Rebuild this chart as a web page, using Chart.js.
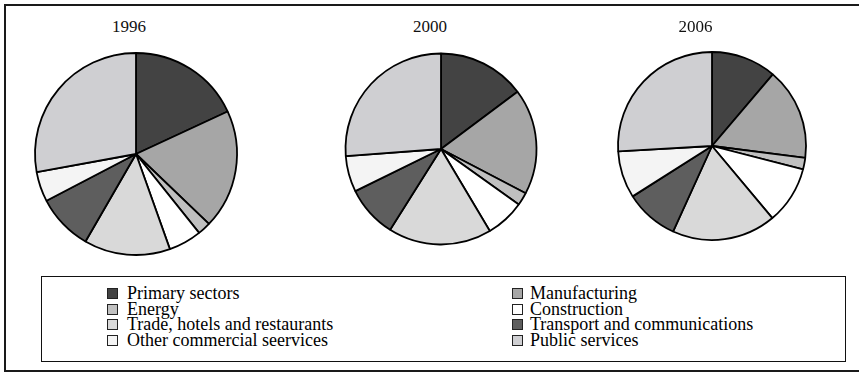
<!DOCTYPE html>
<html>
<head>
<meta charset="utf-8">
<script src="https://cdn.jsdelivr.net/npm/chart.js@4/dist/chart.umd.min.js"></script>
<style>
  body { margin: 0; background: #fff; }
  #wrap { position: relative; width: 859px; height: 375px; overflow: hidden; font-family: "Liberation Serif", "DejaVu Serif", serif; }
  #frame { position: absolute; left: 4px; top: 4px; width: 860px; height: 368px; border: 2px solid #1a1a1a; box-sizing: border-box; }
  .pie { position: absolute; }
  .year { position: absolute; top: 17px; width: 80px; text-align: center; font-size: 17px; color: #111; }
  #legend { position: absolute; left: 41px; top: 276px; width: 805px; height: 86px; border: 1.5px solid #111; box-sizing: border-box; }
  .item { position: absolute; font-size: 18px; line-height: 16px; color: #000; white-space: nowrap; }
  .box { position: absolute; width: 11px; height: 11px; border: 1px solid #222; box-sizing: border-box; }
</style>
</head>
<body>
<div id="wrap">
  <div id="frame"></div>
  <div id="legend"></div>
</div>
<script>
const sectors = ["Primary sectors", "Manufacturing", "Energy", "Construction",
  "Trade, hotels and restaurants", "Transport and communications",
  "Other commercial seervices", "Public services"];
const colors = ["#434343", "#a6a6a6", "#c0c0c0", "#ffffff", "#d9d9d9", "#5e5e5e", "#f4f4f4", "#cfcfd2"];
const years = ["1996", "2000", "2006"];

// share of each sector, percent
const share1996 = [18.1, 19.1, 2.1, 5.3, 13.8, 9.0, 4.8, 27.9];
const share2000 = [14.8, 17.9, 2.2, 6.6, 17.5, 8.8, 6.1, 26.2];
const share2006 = [11.2, 15.8, 2.0, 9.9, 17.9, 9.2, 8.1, 25.9];

const wrap = document.getElementById("wrap");

// centre x, centre y, radius, title centre x
const layout = [
  [135.5, 153.5, 101, 129],
  [440.5, 149, 95.5, 430],
  [711.5, 146, 94, 695.5]
];

[share1996, share2000, share2006].forEach((values, i) => {
  const [cx, cy, r, tx] = layout[i];
  const size = 220;
  const canvas = document.createElement("canvas");
  canvas.className = "pie";
  canvas.style.left = (cx - size / 2) + "px";
  canvas.style.top = (cy - size / 2) + "px";
  canvas.style.width = size + "px";
  canvas.style.height = size + "px";
  canvas.width = size;
  canvas.height = size;
  wrap.appendChild(canvas);

  new Chart(canvas.getContext("2d"), {
    type: "pie",
    data: {
      labels: sectors,
      datasets: [{
        data: values,
        backgroundColor: colors,
        borderColor: "#000",
        borderWidth: 1.8,
        radius: r
      }]
    },
    options: {
      responsive: false,
      animation: false,
      layout: { padding: 0 },
      plugins: { legend: { display: false }, tooltip: { enabled: false } }
    }
  });

  const title = document.createElement("div");
  title.className = "year";
  title.style.left = (tx - 40) + "px";
  title.textContent = years[i];
  wrap.appendChild(title);
});

// two-column legend, read row by row
const legend = document.getElementById("legend");
sectors.forEach((name, i) => {
  const col = i % 2;
  const row = Math.floor(i / 2);
  const top = 10 + row * 15.5;
  const box = document.createElement("div");
  box.className = "box";
  box.style.left = (col ? 470 : 65) + "px";
  box.style.top = (top + 1) + "px";
  box.style.background = colors[i];
  legend.appendChild(box);
  const item = document.createElement("div");
  item.className = "item";
  item.style.left = (col ? 488 : 85) + "px";
  item.style.top = (top - 2) + "px";
  item.textContent = name;
  legend.appendChild(item);
});
</script>
</body>
</html>
